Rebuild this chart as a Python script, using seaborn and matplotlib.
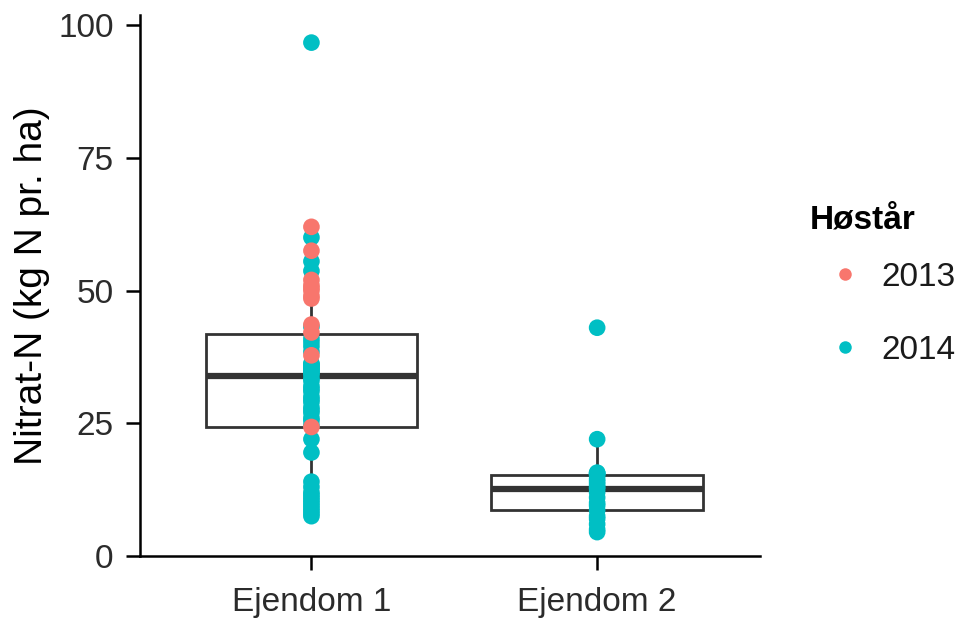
import numpy as np
import pandas as pd
import seaborn as sns
import matplotlib.pyplot as plt
from matplotlib.lines import Line2D

categories = ["Ejendom 1", "Ejendom 2"]
years = ["2013", "2014"]
year_colors = ["#F8766D", "#00BFC4"]

e1_2013 = [24.3, 37.8, 42.1, 43.6, 48.5, 49.0, 50.0, 50.5, 51.0, 52.0, 57.5, 62.0]
e1_2014 = [7.5, 8.0, 8.5, 9.0, 9.5, 10.0, 10.5, 11.0, 11.5, 12.0, 13.0, 14.0, 19.5,
           22.0, 24.6, 25.5, 26.0, 27.0, 27.5, 28.0, 29.0, 29.5, 30.0, 31.0, 31.5,
           32.0, 33.0, 33.5, 34.3, 34.5, 35.0, 35.0, 35.5, 35.5, 36.0, 36.0, 36.3,
           38.5, 39.5, 40.3, 41.0, 43.2, 53.7, 55.5, 60.0, 96.7]
e2_2014 = [4.5, 5.0, 6.0, 7.0, 7.5, 8.6, 9.5, 10.0, 11.0, 12.0, 12.7, 13.0, 13.5,
           14.0, 14.5, 15.2, 15.5, 15.6, 15.7, 22.0, 43.0]

rows = []
for v in e1_2014:
    rows.append((categories[0], years[1], v))
for v in e2_2014:
    rows.append((categories[1], years[1], v))
for v in e1_2013:
    rows.append((categories[0], years[0], v))
df = pd.DataFrame(rows, columns=["Ejendom", "Høstår", "N"])

sns.set_theme(style="ticks")
plt.rcParams["font.family"] = ["Liberation Sans", "DejaVu Sans"]

fig = plt.figure(figsize=(9.66, 6.18), dpi=100)
ax = fig.add_axes([140 / 966, 1 - 556 / 618, 620 / 966, 541 / 618])

line_col = "#333333"
sns.boxplot(data=df, x="Ejendom", y="N", order=categories, color="white",
            linecolor=line_col, linewidth=2.0, width=0.74, showfliers=False,
            showcaps=False, whis=1.5, medianprops={"linewidth": 4.5},
            ax=ax, zorder=1)
sns.stripplot(data=df, x="Ejendom", y="N", order=categories, hue="Høstår",
              hue_order=years, palette=year_colors, jitter=False, size=12,
              linewidth=0, ax=ax, zorder=3, legend=False)

ax.set_xlim(-0.6, 1.57)
ax.set_ylim(0, 101.9)
ax.set_yticks([0, 25, 50, 75, 100])
ax.set_xlabel("")
ax.set_ylabel("Nitrat-N (kg N pr. ha)", fontsize=28, color="black", labelpad=6)
for s in ["top", "right"]:
    ax.spines[s].set_visible(False)
for s in ["left", "bottom"]:
    ax.spines[s].set_linewidth(1.8)
    ax.spines[s].set_color("black")
ax.tick_params(axis="both", length=10, width=1.8, color="black",
               labelsize=24, labelcolor="#2b2b2b")
ax.tick_params(axis="y", pad=9)
ax.tick_params(axis="x", pad=12)

fig.text(810 / 966, 1 - 220 / 618, "Høstår", fontsize=24, fontweight="bold",
         va="center", ha="left", color="black")
handles = [Line2D([], [], marker="o", linestyle="", markersize=9,
                  markerfacecolor=c, markeredgewidth=0) for c in year_colors]
fig.legend(handles, years, loc="upper left", bbox_to_anchor=(828 / 966, 1 - 262 / 618),
           frameon=False, fontsize=24, handlelength=1.0, handletextpad=0.6,
           labelspacing=1.25, borderpad=0, borderaxespad=0, labelcolor="#1a1a1a")

fig.savefig("out.png", dpi=100)
